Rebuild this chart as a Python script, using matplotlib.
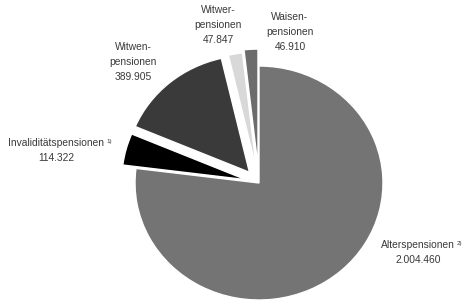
import matplotlib
matplotlib.use("Agg")
import matplotlib.pyplot as plt

# data
names = ["Alterspensionen", "Invaliditätspensionen", "Witwen-\npensionen", "Witwer-\npensionen", "Waisen-\npensionen"]
notes = ["2)", "1)", "", "", ""]
values = [2004460, 114322, 389905, 47847, 46910]
colors = ["#747474", "#000000", "#3a3a3a", "#d8d8d8", "#6c6c6c"]
explode = [0, 0.11, 0.12, 0.12, 0.145]

W, H = 470, 300
cx, cy = 259, 183      # pie centre in pixels (from top)
rx, ry = 124, 117      # the original is squashed a bit vertically

fig = plt.figure(figsize=(W / 100, H / 100), dpi=100)
ax = fig.add_axes([0, 0, 1, 1])
ax.pie(values, colors=colors, explode=explode, startangle=90, counterclock=False,
       radius=1, wedgeprops=dict(edgecolor="white", linewidth=1.0))
ax.set_aspect("auto")
ax.set_xlim(-cx / rx, (W - cx) / rx)
ax.set_ylim(-(H - cy) / ry, cy / ry)
ax.set_axis_off()

# label positions (centre x, top line y) in pixels
label_pos = [(418, 245), (56, 143), (133, 47), (218, 10), (290, 17)]
txt_color = "#3a3a3a"
fs = 7.4
renderer = fig.canvas.get_renderer()


def fmt(v):
    return f"{v:,}".replace(",", ".")


for name, note, val, (x, y) in zip(names, notes, values, label_pos):
    lines = name.split("\n") + [fmt(val)]
    for i, line in enumerate(lines):
        t = fig.text(x / W, 1 - (y + i * 15) / H, line, ha="center", va="center",
                     fontsize=fs, color=txt_color, family="Liberation Sans")
        if i == 0 and note:
            bb = t.get_window_extent(renderer)
            fig.text((bb.x1 + 2) / W, (bb.y1 - 1) / H, note, ha="left", va="top",
                     fontsize=4.5, color=txt_color, family="Liberation Sans")

fig.savefig("out.png", dpi=100)
